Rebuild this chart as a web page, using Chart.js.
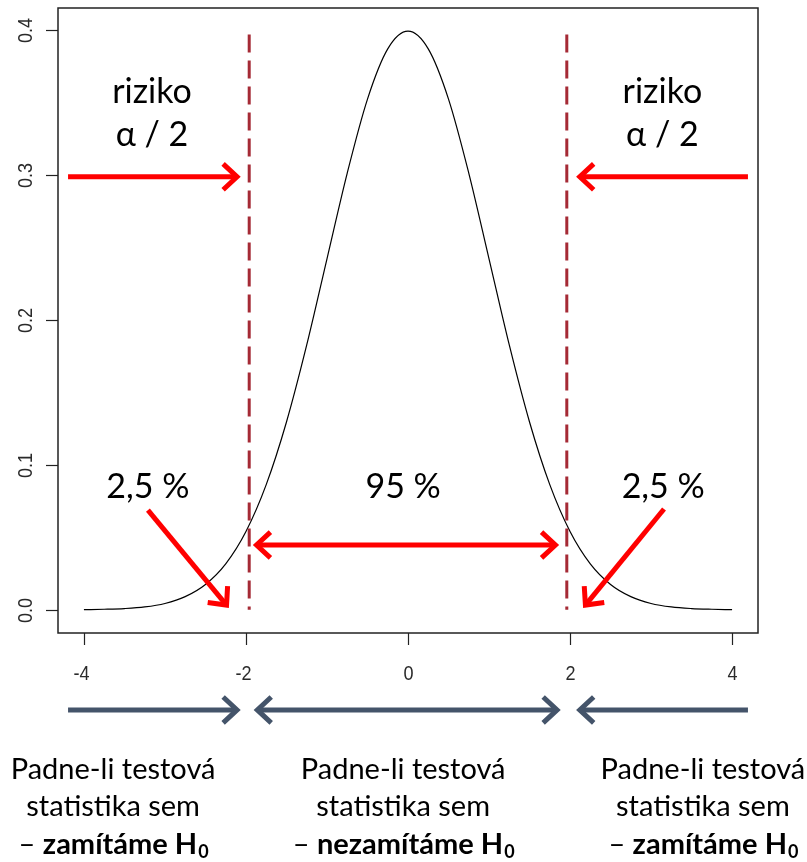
<!DOCTYPE html>
<html>
<head>
<meta charset="utf-8">
<script src="https://cdn.jsdelivr.net/npm/chart.js@4/dist/chart.umd.min.js"></script>
<style>
html,body{margin:0;padding:0;background:#fff;}
canvas{display:block;}
</style>
</head>
<body>
<canvas id="c" width="807" height="862"></canvas>
<script>
// ---- data ----
const xValues = [-4,-3.75,-3.5,-3.25,-3,-2.75,-2.5,-2.25,-2,-1.75,-1.5,-1.25,-1,-0.75,-0.5,-0.25,0,0.25,0.5,0.75,1,1.25,1.5,1.75,2,2.25,2.5,2.75,3,3.25,3.5,3.75,4];
const density = [0.0001,0.0004,0.0009,0.0020,0.0044,0.0091,0.0175,0.0317,0.0540,0.0863,0.1295,0.1826,0.2420,0.3011,0.3521,0.3867,0.3989,0.3867,0.3521,0.3011,0.2420,0.1826,0.1295,0.0863,0.0540,0.0317,0.0175,0.0091,0.0044,0.0020,0.0009,0.0004,0.0001];
const xTicks = [-4,-2,0,2,4];
const xTickLabels = ['-4','-2','0','2','4'];
const yTicks = [0,0.1,0.2,0.3,0.4];
const yTickLabels = ['0.0','0.1','0.2','0.3','0.4'];
const criticalValues = [-1.96, 1.96];
const criticalTop = 0.4;

// annotation texts
const riskLines = ['riziko', 'α / 2'];
const riskX = [-3.16, 3.14];
const riskY = [0.357, 0.327];
const pctLabels = ['2,5 %', '95 %', '2,5 %'];
const pctX = [-3.21, -0.06, 3.15];
const pctY = 0.0847;
// red arrows: [x1,y1,x2,y2,headStart,headEnd]
const redArrows = [
  [-4.196, 0.2985, -2.11, 0.2985, false, true],
  [4.196, 0.2985, 2.12, 0.2985, false, true],
  [-1.87, 0.0447, 1.82, 0.0447, true, true],
  [-3.21, 0.0688, -2.24, 0.0033, false, true],
  [3.16, 0.0695, 2.19, 0.0033, false, true]
];
// blue arrows below the axis
const blueY = -0.069;
const blueArrows = [
  [-4.196, blueY, -2.11, blueY, false, true],
  [-1.86, blueY, 1.84, blueY, true, true],
  [4.196, blueY, 2.12, blueY, false, true]
];
const bottomX = [-3.64, -0.06, 3.64];
const bottomLine1 = 'Padne-li testová';
const bottomLine2 = 'statistika sem';
const bottomBold = ['zamítáme H', 'nezamítáme H', 'zamítáme H'];
const bottomLineY = [-0.1103, -0.1355, -0.1617];

const TEXT_FONT = 'Lato, "Open Sans", sans-serif';
const AXIS_FONT = '"Liberation Sans", Arial, sans-serif';

function arrow(ctx, x1, y1, x2, y2, hs, he, color, w) {
  ctx.save();
  ctx.strokeStyle = color; ctx.lineWidth = w; ctx.lineCap = 'butt'; ctx.lineJoin = 'miter';
  ctx.beginPath(); ctx.moveTo(x1, y1); ctx.lineTo(x2, y2); ctx.stroke();
  const L = 19, A = Math.PI / 4.2;
  function head(px, py, fx, fy) {
    const ang = Math.atan2(py - fy, px - fx);
    ctx.beginPath();
    ctx.moveTo(px - L * Math.cos(ang - A), py - L * Math.sin(ang - A));
    ctx.lineTo(px, py);
    ctx.lineTo(px - L * Math.cos(ang + A), py - L * Math.sin(ang + A));
    ctx.stroke();
  }
  if (he) head(x2, y2, x1, y1);
  if (hs) head(x1, y1, x2, y2);
  ctx.restore();
}

function narrowText(ctx, text, x, y, rot) {
  ctx.save();
  ctx.translate(x, y);
  if (rot) ctx.rotate(rot);
  ctx.scale(0.86, 1);
  ctx.fillText(text, 0, 0);
  ctx.restore();
}

const decor = {
  id: 'decor',
  beforeDatasetsDraw(chart) {
    const ctx = chart.ctx, xs = chart.scales.x, ys = chart.scales.y, a = chart.chartArea;
    ctx.save();
    // box
    ctx.strokeStyle = '#222'; ctx.lineWidth = 1.5;
    ctx.strokeRect(a.left, a.top, a.right - a.left, a.bottom - a.top);
    // ticks
    ctx.lineWidth = 1.2; ctx.strokeStyle = '#222';
    ctx.fillStyle = '#2a2a2a';
    ctx.font = '21px ' + AXIS_FONT;
    ctx.textAlign = 'center'; ctx.textBaseline = 'middle';
    xTicks.forEach((v, i) => {
      const px = Math.round(xs.getPixelForValue(v)) + 0.5;
      ctx.beginPath(); ctx.moveTo(px, a.bottom); ctx.lineTo(px, a.bottom + 12); ctx.stroke();
      narrowText(ctx, xTickLabels[i], px - (v < 0 ? 3 : 0), a.bottom + 41, 0);
    });
    yTicks.forEach((v, i) => {
      const py = Math.round(ys.getPixelForValue(v)) + 0.5;
      ctx.beginPath(); ctx.moveTo(a.left, py); ctx.lineTo(a.left - 12, py); ctx.stroke();
      narrowText(ctx, yTickLabels[i], a.left - 32, py, -Math.PI / 2);
    });
    ctx.restore();
  },
  afterDatasetsDraw(chart) {
    const ctx = chart.ctx, xs = chart.scales.x, ys = chart.scales.y;
    const X = v => xs.getPixelForValue(v), Y = v => ys.getPixelForValue(v);
    ctx.save();
    // critical dashed lines
    ctx.strokeStyle = '#a52a35'; ctx.lineWidth = 3; ctx.setLineDash([18, 8]);
    criticalValues.forEach(v => {
      ctx.beginPath(); ctx.moveTo(X(v), Y(criticalTop) + 5); ctx.lineTo(X(v), Y(0)); ctx.stroke();
    });
    ctx.setLineDash([]);
    // text
    ctx.fillStyle = '#000';
    ctx.textAlign = 'center'; ctx.textBaseline = 'middle';
    ctx.font = '34px ' + TEXT_FONT;
    riskX.forEach(x => {
      riskLines.forEach((t, j) => ctx.fillText(t, X(x), Y(riskY[j])));
    });
    pctLabels.forEach((t, i) => ctx.fillText(t, X(pctX[i]), Y(pctY)));
    // red arrows
    redArrows.forEach(r => arrow(ctx, X(r[0]), Y(r[1]), X(r[2]), Y(r[3]), r[4], r[5], '#ff0000', 5));
    // blue arrows
    blueArrows.forEach(r => arrow(ctx, X(r[0]), Y(r[1]), X(r[2]), Y(r[3]), r[4], r[5], '#44546a', 5));
    // bottom text
    const reg = '29px ' + TEXT_FONT, bold = 'bold 29px ' + TEXT_FONT, sub = 'bold 18px ' + TEXT_FONT;
    bottomX.forEach((x, i) => {
      const cx = X(x);
      ctx.font = reg; ctx.textAlign = 'center';
      ctx.fillText(bottomLine1, cx, Y(bottomLineY[0]));
      ctx.fillText(bottomLine2, cx, Y(bottomLineY[1]));
      // composite line
      ctx.textAlign = 'left';
      ctx.font = reg; const w1 = ctx.measureText('– ').width;
      ctx.font = bold; const w2 = ctx.measureText(bottomBold[i]).width;
      ctx.font = sub; const w3 = ctx.measureText('0').width;
      let sx = cx - (w1 + w2 + w3) / 2;
      const y3 = Y(bottomLineY[2]);
      ctx.font = reg; ctx.fillText('– ', sx, y3); sx += w1;
      ctx.font = bold; ctx.fillText(bottomBold[i], sx, y3); sx += w2 + 1;
      ctx.font = sub; ctx.fillText('0', sx, y3 + 8);
    });
    ctx.restore();
  }
};

new Chart(document.getElementById('c'), {
  type: 'line',
  data: {
    datasets: [{
      data: xValues.map((x, i) => ({ x: x, y: density[i] })),
      borderColor: '#000', borderWidth: 1.2, pointRadius: 0,
      cubicInterpolationMode: 'monotone', fill: false
    }]
  },
  options: {
    responsive: false, animation: false,
    layout: { padding: { left: 58, right: 49, top: 8, bottom: 229 } },
    plugins: { legend: { display: false }, tooltip: { enabled: false } },
    scales: {
      x: { type: 'linear', min: -4.32, max: 4.32, display: false },
      y: { type: 'linear', min: -0.01596, max: 0.4149, display: false }
    }
  },
  plugins: [decor]
});
</script>
</body>
</html>
